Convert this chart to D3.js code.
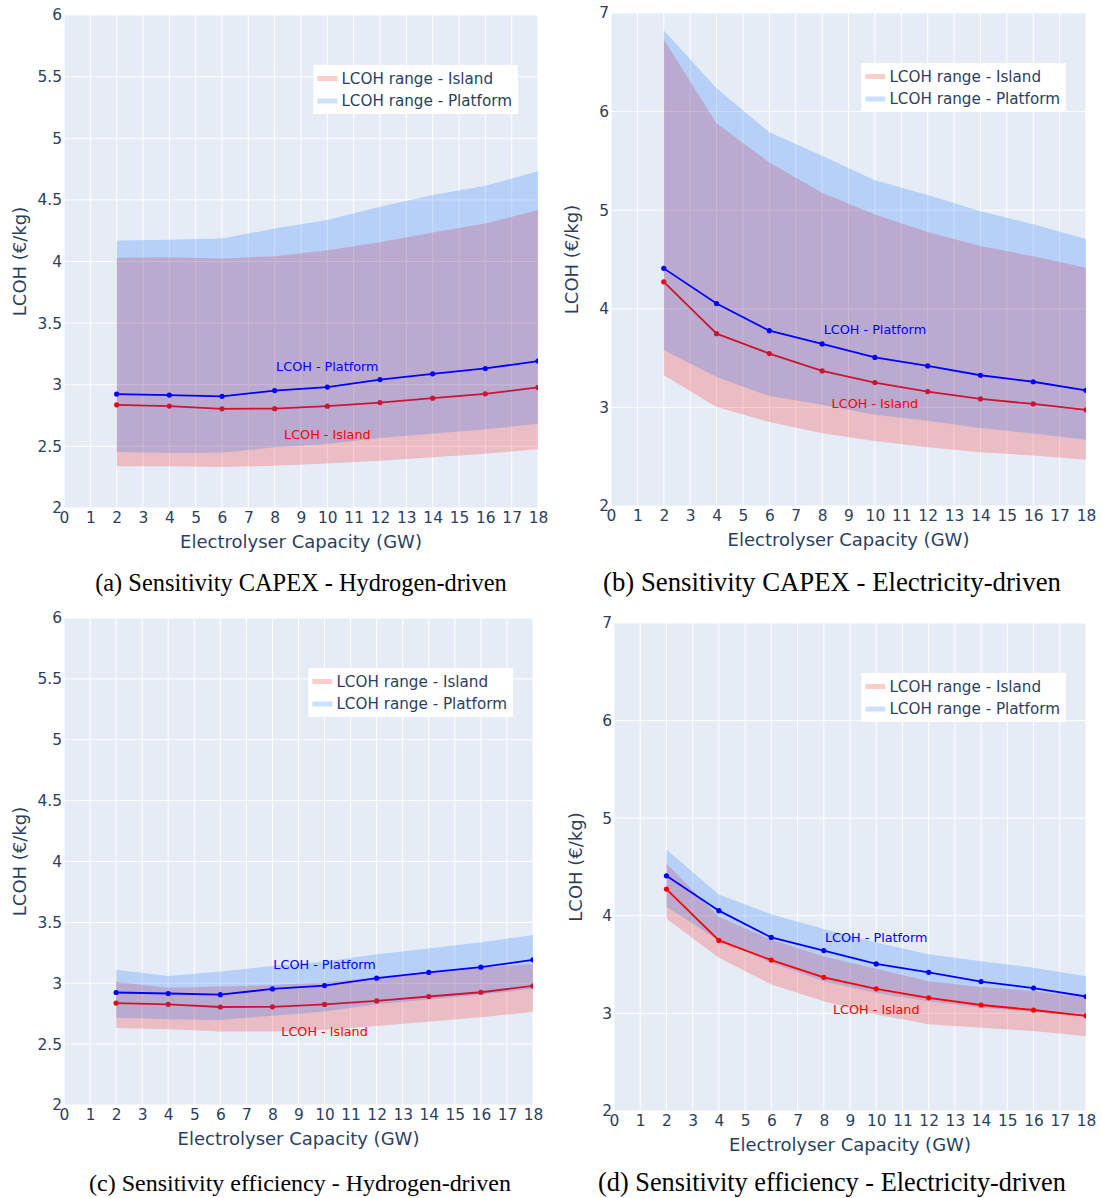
<!DOCTYPE html>
<html>
<head>
<meta charset="utf-8">
<script src="https://cdn.jsdelivr.net/npm/d3@7"></script>
<style>
  body { margin: 0; background: #ffffff; }
  svg { display: block; }
</style>
</head>
<body>
<svg id="fig" width="1102" height="1198"></svg>
<script>
// ---- data -----------------------------------------------------------
const capacity = [2, 4, 6, 8, 10, 12, 14, 16, 18];
const xTickValues = [0, 1, 2, 3, 4, 5, 6, 7, 8, 9, 10, 11, 12, 13, 14, 15, 16, 17, 18];
const yTicksHydrogen = [2, 2.5, 3, 3.5, 4, 4.5, 5, 5.5, 6];
const yTicksElectricity = [2, 3, 4, 5, 6, 7];

// central LCOH estimates (EUR/kg)
const lcohPlatformHydrogen = [2.924, 2.916, 2.906, 2.953, 2.981, 3.042, 3.089, 3.132, 3.192];
const lcohIslandHydrogen   = [2.837, 2.827, 2.805, 2.806, 2.826, 2.855, 2.891, 2.926, 2.978];
const lcohPlatformElectricity = [4.41, 4.053, 3.778, 3.644, 3.507, 3.421, 3.326, 3.26, 3.173];
const lcohIslandElectricity   = [4.274, 3.748, 3.546, 3.37, 3.252, 3.16, 3.086, 3.035, 2.975];

// (a) CAPEX sensitivity, hydrogen-driven
const capexHydrogenPlatformUpper = [4.171, 4.176, 4.187, 4.268, 4.336, 4.444, 4.539, 4.615, 4.732];
const capexHydrogenPlatformLower = [2.454, 2.446, 2.449, 2.492, 2.519, 2.568, 2.603, 2.638, 2.684];
const capexHydrogenIslandUpper   = [4.030, 4.035, 4.024, 4.043, 4.092, 4.157, 4.236, 4.309, 4.417];
const capexHydrogenIslandLower   = [2.338, 2.338, 2.332, 2.343, 2.362, 2.384, 2.411, 2.441, 2.476];

// (b) CAPEX sensitivity, electricity-driven
const capexElectricityPlatformUpper = [6.824, 6.237, 5.790, 5.553, 5.305, 5.153, 4.990, 4.858, 4.708];
const capexElectricityPlatformLower = [3.583, 3.308, 3.115, 3.027, 2.925, 2.864, 2.790, 2.736, 2.671];
const capexElectricityIslandUpper   = [6.732, 5.881, 5.485, 5.176, 4.956, 4.780, 4.637, 4.532, 4.417];
const capexElectricityIslandLower   = [3.325, 3.003, 2.851, 2.739, 2.658, 2.597, 2.546, 2.512, 2.468];

// (c) efficiency sensitivity, hydrogen-driven
const effHydrogenPlatformUpper = [3.110, 3.060, 3.096, 3.142, 3.178, 3.238, 3.285, 3.337, 3.397];
const effHydrogenPlatformLower = [2.716, 2.705, 2.698, 2.734, 2.768, 2.827, 2.866, 2.905, 2.955];
const effHydrogenIslandUpper   = [3.012, 2.963, 2.974, 2.985, 3.006, 3.049, 3.095, 3.130, 3.158];
const effHydrogenIslandLower   = [2.633, 2.623, 2.603, 2.603, 2.619, 2.649, 2.684, 2.720, 2.765];

// (d) efficiency sensitivity, electricity-driven
const effElectricityPlatformUpper = [4.680, 4.218, 4.015, 3.866, 3.727, 3.605, 3.535, 3.467, 3.380];
const effElectricityPlatformLower = [4.092, 3.747, 3.520, 3.330, 3.210, 3.125, 3.058, 3.013, 2.970];
const effElectricityIslandUpper   = [4.535, 3.990, 3.755, 3.585, 3.458, 3.330, 3.270, 3.230, 3.160];
const effElectricityIslandLower   = [3.969, 3.570, 3.296, 3.125, 2.990, 2.890, 2.853, 2.820, 2.767];

const legendLabels = ["LCOH range - Island", "LCOH range - Platform"];
const lineLabels = { platform: "LCOH - Platform", island: "LCOH - Island" };
const xTitle = "Electrolyser Capacity (GW)";
const yTitle = "LCOH (€/kg)";

// ---- panel layout ---------------------------------------------------
const panels = [
  { caption: "(a) Sensitivity CAPEX - Hydrogen-driven",
    plot: { left: 64, right: 538, top: 15, bottom: 508 },
    yDomain: [2, 6], yTicks: yTicksHydrogen,
    platform: lcohPlatformHydrogen, island: lcohIslandHydrogen,
    pu: capexHydrogenPlatformUpper, pl: capexHydrogenPlatformLower,
    iu: capexHydrogenIslandUpper, il: capexHydrogenIslandLower,
    notePlatform: 3.15, noteIsland: 2.6, islandLineOnTop: false,
    captionY: 591, captionWidth: 412, captionX: 301, yTitleX: 20 },
  { caption: "(b) Sensitivity CAPEX - Electricity-driven",
    plot: { left: 611, right: 1086, top: 13, bottom: 506 },
    yDomain: [2, 7], yTicks: yTicksElectricity,
    platform: lcohPlatformElectricity, island: lcohIslandElectricity,
    pu: capexElectricityPlatformUpper, pl: capexElectricityPlatformLower,
    iu: capexElectricityIslandUpper, il: capexElectricityIslandLower,
    notePlatform: 3.79, noteIsland: 3.04, islandLineOnTop: false,
    captionY: 591, captionWidth: 458, captionX: 832, yTitleX: 572 },
  { caption: "(c) Sensitivity efficiency - Hydrogen-driven",
    plot: { left: 64, right: 533, top: 618, bottom: 1105 },
    yDomain: [2, 6], yTicks: yTicksHydrogen,
    platform: lcohPlatformHydrogen, island: lcohIslandHydrogen,
    pu: effHydrogenPlatformUpper, pl: effHydrogenPlatformLower,
    iu: effHydrogenIslandUpper, il: effHydrogenIslandLower,
    notePlatform: 3.15, noteIsland: 2.6, islandLineOnTop: false,
    captionY: 1191, captionWidth: 422, captionX: 300, yTitleX: 20 },
  { caption: "(d) Sensitivity efficiency - Electricity-driven",
    plot: { left: 614, right: 1086, top: 623, bottom: 1111 },
    yDomain: [2, 7], yTicks: yTicksElectricity,
    platform: lcohPlatformElectricity, island: lcohIslandElectricity,
    pu: effElectricityPlatformUpper, pl: effElectricityPlatformLower,
    iu: effElectricityIslandUpper, il: effElectricityIslandLower,
    notePlatform: 3.78, noteIsland: 3.04, islandLineOnTop: true,
    captionY: 1191, captionWidth: 468, captionX: 832, yTitleX: 576 }
];

const style = {
  plotBg: "#e5ecf6",
  grid: "#ffffff",
  text: "#2a3f5f",
  islandFill: "rgba(255,0,0,0.2)",
  platformFill: "rgba(0,100,255,0.2)",
  islandLine: "red",
  platformLine: "blue",
  font: "'DejaVu Sans', Verdana, sans-serif",
  serif: "'Liberation Serif', 'DejaVu Serif', serif",
  tickSize: 15.4,
  titleSize: 18,
  legendSize: 15.2,
  noteSize: 12.8
};

const svg = d3.select("#fig");

panels.forEach((p, i) => {
  const g = svg.append("g").attr("class", "panel-" + i);
  const x = d3.scaleLinear().domain([0, 18]).range([p.plot.left, p.plot.right]);
  const y = d3.scaleLinear().domain(p.yDomain).range([p.plot.bottom, p.plot.top]);

  // plot background
  g.append("rect")
    .attr("x", p.plot.left).attr("y", p.plot.top)
    .attr("width", p.plot.right - p.plot.left)
    .attr("height", p.plot.bottom - p.plot.top)
    .attr("fill", style.plotBg);

  // grid
  g.append("g").selectAll("line").data(xTickValues).join("line")
    .attr("x1", d => x(d)).attr("x2", d => x(d))
    .attr("y1", p.plot.top).attr("y2", p.plot.bottom)
    .attr("stroke", style.grid).attr("stroke-width", 1);
  g.append("g").selectAll("line").data(p.yTicks).join("line")
    .attr("x1", p.plot.left).attr("x2", p.plot.right)
    .attr("y1", d => y(d)).attr("y2", d => y(d))
    .attr("stroke", style.grid).attr("stroke-width", 1);

  const clipId = "clip-" + i;
  svg.append("clipPath").attr("id", clipId).append("rect")
    .attr("x", p.plot.left).attr("y", p.plot.top)
    .attr("width", p.plot.right - p.plot.left)
    .attr("height", p.plot.bottom - p.plot.top);
  const marks = g.append("g").attr("clip-path", `url(#${clipId})`);

  const band = (lo, hi) => d3.area()
    .x((d, k) => x(capacity[k]))
    .y0((d, k) => y(lo[k]))
    .y1((d, k) => y(hi[k]))(capacity);

  const drawBand = (lo, hi, fill) =>
    marks.append("path").attr("d", band(lo, hi)).attr("fill", fill);

  const drawLine = (vals, color) => {
    const pts = capacity.map((c, k) => [x(c), y(vals[k])]);
    marks.append("path").attr("d", d3.line()(pts))
      .attr("fill", "none").attr("stroke", color).attr("stroke-width", 1.8);
    marks.append("g").selectAll("circle").data(pts).join("circle")
      .attr("cx", d => d[0]).attr("cy", d => d[1]).attr("r", 2.6)
      .attr("fill", color);
  };

  drawBand(p.il, p.iu, style.islandFill);
  if (!p.islandLineOnTop) drawLine(p.island, style.islandLine);
  drawBand(p.pl, p.pu, style.platformFill);
  if (p.islandLineOnTop) drawLine(p.island, style.islandLine);
  drawLine(p.platform, style.platformLine);

  // line annotations
  g.append("text").attr("x", x(10)).attr("y", y(p.notePlatform)).attr("dy", "0.35em")
    .attr("text-anchor", "middle").attr("font-family", style.font).attr("font-size", style.noteSize)
    .attr("fill", "blue").text(lineLabels.platform);
  g.append("text").attr("x", x(10)).attr("y", y(p.noteIsland)).attr("dy", "0.35em")
    .attr("text-anchor", "middle").attr("font-family", style.font).attr("font-size", style.noteSize)
    .attr("fill", "red").text(lineLabels.island);

  // axes
  const xAxis = g.append("g").attr("transform", `translate(0,${p.plot.bottom})`)
    .call(d3.axisBottom(x).tickValues(xTickValues).tickSize(0).tickPadding(4).tickFormat(d3.format("d")));
  const yAxis = g.append("g").attr("transform", `translate(${p.plot.left},0)`)
    .call(d3.axisLeft(y).tickValues(p.yTicks).tickSize(0).tickPadding(2).tickFormat(d => String(d)));
  [xAxis, yAxis].forEach(ax => {
    ax.select(".domain").remove();
    ax.selectAll("text").attr("font-family", style.font).attr("font-size", style.tickSize).attr("fill", style.text);
  });

  g.append("text")
    .attr("x", (p.plot.left + p.plot.right) / 2).attr("y", p.plot.bottom + 40)
    .attr("text-anchor", "middle").attr("font-family", style.font).attr("font-size", style.titleSize)
    .attr("fill", style.text).text(xTitle);
  g.append("text")
    .attr("transform", `translate(${p.yTitleX},${(p.plot.top + p.plot.bottom) / 2}) rotate(-90)`)
    .attr("dy", "0.35em").attr("text-anchor", "middle").attr("font-family", style.font)
    .attr("font-size", style.titleSize).attr("fill", style.text).text(yTitle);

  // legend
  const legend = g.append("g");
  const box = legend.append("rect").attr("fill", "#ffffff");
  const swatches = [style.islandFill, style.platformFill];
  const items = legend.selectAll("g.item").data(legendLabels).join("g").attr("class", "item");
  items.append("line")
    .attr("x1", 4).attr("x2", 24)
    .attr("y1", (d, k) => 13.5 + k * 22.5).attr("y2", (d, k) => 13.5 + k * 22.5)
    .attr("stroke", (d, k) => swatches[k]).attr("stroke-width", 5);
  const labels = items.append("text")
    .attr("x", 28).attr("y", (d, k) => 13.5 + k * 22.5).attr("dy", "0.35em")
    .attr("font-family", style.font).attr("font-size", style.legendSize).attr("fill", style.text)
    .text(d => d);
  let w = 0;
  labels.each(function () { w = Math.max(w, this.getComputedTextLength()); });
  const boxW = 28 + w + 6, boxH = 49;
  box.attr("width", boxW).attr("height", boxH);
  legend.attr("transform", `translate(${p.plot.right - 20 - boxW},${p.plot.top + 50})`);

  // caption
  const cap = svg.append("text")
    .attr("x", p.captionX).attr("y", p.captionY)
    .attr("text-anchor", "middle").attr("font-family", style.serif)
    .attr("font-size", 22).attr("fill", "#000000").text(p.caption);
  const len = cap.node().getComputedTextLength();
  cap.attr("font-size", 22 * p.captionWidth / len);
});
</script>
</body>
</html>
